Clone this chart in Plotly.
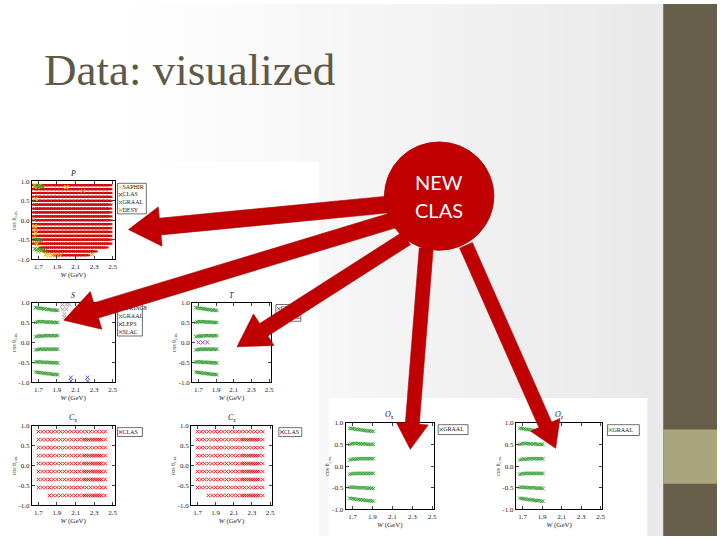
import plotly.graph_objects as go

# ---------------- data ----------------
# P panel: CLAS bins (W in GeV, rows in cos theta)
P_CLAS_W = [1.66, 1.70, 1.74, 1.78, 1.82, 1.86, 1.90, 1.94, 1.98, 2.02, 2.06,
            2.10, 2.14, 2.18, 2.22, 2.26, 2.30, 2.34, 2.38, 2.42, 2.46]
P_CLAS_COS = [0.9, 0.8, 0.7, 0.6, 0.5, 0.4, 0.3, 0.2, 0.1, 0.0,
              -0.1, -0.2, -0.3, -0.4, -0.5, -0.6, -0.7, -0.8, -0.9]
P_CLAS_WMIN = [1.66, 1.66, 1.66, 1.66, 1.66, 1.66, 1.66, 1.66, 1.66, 1.66,
               1.66, 1.66, 1.66, 1.66, 1.66, 1.66, 1.74, 1.78, 1.90]
P_CLAS_WMAX = [2.46, 2.46, 2.46, 2.46, 2.46, 2.46, 2.46, 2.46, 2.46, 2.46,
               2.46, 2.46, 2.46, 2.46, 2.46, 2.46, 2.42, 2.30, 2.22]
P_SAPHIR_W = [1.66, 1.69, 1.72, 1.67, 1.66, 1.67, 1.68, 1.70, 1.78, 1.81, 2.00]
P_SAPHIR_COS = [0.90, 0.86, 0.90, 0.55, -0.15, -0.33, -0.62, -0.80, -0.88, -0.90, 0.85]
P_GRAAL_W = [1.67, 1.69, 1.71, 1.73, 1.75, 1.67, 1.69, 1.71, 1.73,
             1.66, 1.68, 1.70, 1.72, 1.74, 1.76, 1.78]
P_GRAAL_COS = [0.88, 0.88, 0.87, 0.87, 0.86, -0.50, -0.50, -0.51, -0.52,
               -0.74, -0.75, -0.75, -0.76, -0.77, -0.77, -0.78]
P_DESY_W = [1.65, 1.66, 1.66, 1.85, 1.88, 1.91, 1.94, 2.18, 2.28]
P_DESY_COS = [0.02, -0.20, -0.40, -0.90, -0.90, -0.90, -0.90, 0.75, -0.88]

# GRAAL bins (used in S, T, Ox, Oz)
GRAAL_W = [1.67, 1.685, 1.70, 1.715, 1.73, 1.745, 1.76, 1.775, 1.79,
           1.805, 1.82, 1.835, 1.85, 1.865, 1.88, 1.895, 1.91]
GRAAL_COS_ROWS = [
    [0.87, 0.87, 0.86, 0.86, 0.85, 0.85, 0.84, 0.84, 0.83, 0.83, 0.82, 0.82, 0.81, 0.81, 0.81, 0.80, 0.80],
    [0.50, 0.51, 0.52, 0.52, 0.52, 0.52, 0.52, 0.51, 0.51, 0.51, 0.51, 0.51, 0.50, 0.50, 0.50, 0.50, 0.50],
    [0.14, 0.15, 0.16, 0.16, 0.16, 0.16, 0.17, 0.17, 0.17, 0.17, 0.17, 0.17, 0.17, 0.17, 0.17, 0.17, 0.17],
    [-0.19, -0.18, -0.18, -0.17, -0.17, -0.17, -0.17, -0.17, -0.17, -0.17, -0.17, -0.17, -0.17, -0.17, -0.17, -0.17, -0.17],
    [-0.49, -0.49, -0.49, -0.49, -0.49, -0.50, -0.50, -0.50, -0.50, -0.50, -0.50, -0.51, -0.51, -0.51, -0.51, -0.51, -0.52],
    [-0.74, -0.75, -0.75, -0.76, -0.76, -0.77, -0.77, -0.78, -0.78, -0.78, -0.79, -0.79, -0.80, -0.80, -0.80, -0.81, -0.81],
]
S_SPRING8_W = [1.96, 2.00, 2.03, 1.96, 2.00, 1.98, 1.98]
S_SPRING8_COS = [0.95, 0.95, 0.95, 0.83, 0.83, 0.71, 0.63]
S_LEPS_W = [2.05, 2.05, 2.23, 2.23]
S_LEPS_COS = [-0.88, -0.97, -0.88, -0.97]
T_CLAS_W = [1.70, 1.75, 1.80]
T_CLAS_COS = [0.0, 0.0, 0.0]

# Cx / Cz: CLAS bins
C_W = [1.70, 1.74, 1.78, 1.82, 1.86, 1.90, 1.94, 1.98, 2.02, 2.06,
       2.10, 2.14, 2.18, 2.22, 2.26, 2.30, 2.34, 2.38, 2.42]
C_COS = [0.85, 0.65, 0.45, 0.25, 0.05, -0.15, -0.35, -0.55, -0.75]
C_WMIN = [1.70, 1.70, 1.70, 1.70, 1.70, 1.70, 1.70, 1.70, 1.82]
C_W_EXTRA = [2.20, 2.24, 2.28, 2.32, 2.36]
C_COS_EXTRA = [0.65, 0.25, 0.05, -0.15, -0.35, -0.75]

X_TICKS = [1.7, 1.9, 2.1, 2.3, 2.5]
X_TICKTEXT = ["1.7", "1.9", "2.1", "2.3", "2.5"]
Y_TICKS = [-1.0, -0.5, 0.0, 0.5, 1.0]
Y_TICKTEXT = ["-1.0", "-0.5", "0.0", "0.5", "1.0"]

# ---------------- style / layout ----------------
W, H = 720, 540
RED = "#d81818"
GREEN = "#2c9a2c"
YELLOW = "#e8d400"
ORANGE = "#f09020"
BLUE = "#3030c0"
PURPLE = "#9a48b0"
PINKGRAY = "#a08898"
SLAC_C = "#b04040"
ARROW = "#c00000"
SERIF = "Liberation Serif"

def fx(x):
    return x / W

def fy(y):
    return 1 - y / H

# panel pixel boxes: x0, x1, ytop, ybottom
PANELS = {
    "P": (32, 115, 180, 259),
    "S": (32, 115, 303, 384),
    "T": (193, 272, 303, 384),
    "Cx": (32, 115, 428, 509),
    "Cz": (192, 273, 428, 509),
    "Ox": (347, 436, 425, 513),
    "Oz": (518, 605, 425, 513),
}
TITLES = {"P": "<i>P</i>", "S": "<i>S</i>", "T": "<i>T</i>",
          "Cx": "<i>C</i><sub>x</sub>", "Cz": "<i>C</i><sub>z</sub>",
          "Ox": "<i>O</i><sub>x</sub>", "Oz": "<i>O</i><sub>z</sub>"}
ORDER = ["P", "S", "T", "Cx", "Cz", "Ox", "Oz"]
AX = {name: i + 1 for i, name in enumerate(ORDER)}

fig = go.Figure()

def axref(name):
    i = AX[name]
    return ("x" if i == 1 else f"x{i}"), ("y" if i == 1 else f"y{i}")

def add_pts(name, xs, ys, color, size=4, lw=1, symbol="x-thin"):
    xa, ya = axref(name)
    fig.add_trace(go.Scatter(x=xs, y=ys, mode="markers", xaxis=xa, yaxis=ya,
                             marker=dict(symbol=symbol, size=size, color=color,
                                         line=dict(width=lw, color=color)),
                             showlegend=False, hoverinfo="skip"))

# P panel
px_, py_ = [], []
for c, wmin, wmax in zip(P_CLAS_COS, P_CLAS_WMIN, P_CLAS_WMAX):
    for w in P_CLAS_W:
        if wmin - 1e-9 <= w <= wmax + 1e-9:
            px_.append(w)
            py_.append(c)
add_pts("P", px_, py_, "#e01010", size=5, lw=2.2, symbol="line-ew")
add_pts("P", px_, py_, "#b00000", size=2.5, lw=0.6, symbol="x-thin")
add_pts("P", P_SAPHIR_W, P_SAPHIR_COS, YELLOW, size=4, lw=1.2)
add_pts("P", P_GRAAL_W, P_GRAAL_COS, GREEN, size=4, lw=1.0)
add_pts("P", P_DESY_W, P_DESY_COS, ORANGE, size=4, lw=1.0)

# GRAAL panels
for name in ["S", "T", "Ox", "Oz"]:
    gx, gy = [], []
    for row in GRAAL_COS_ROWS:
        gx += GRAAL_W
        gy += row
    add_pts(name, gx, gy, GREEN, size=3.5, lw=0.8)
add_pts("S", S_SPRING8_W, S_SPRING8_COS, PINKGRAY, size=4, lw=0.8)
add_pts("S", S_LEPS_W, S_LEPS_COS, BLUE, size=4, lw=0.8)
add_pts("T", T_CLAS_W, T_CLAS_COS, PURPLE, size=4, lw=1.0)

# Cx, Cz panels
for name in ["Cx", "Cz"]:
    cx, cy = [], []
    for c, wmin in zip(C_COS, C_WMIN):
        for w in C_W:
            if w >= wmin - 1e-9:
                cx.append(w)
                cy.append(c)
    ex, ey = [], []
    for c in C_COS_EXTRA:
        for w in C_W_EXTRA:
            ex.append(w)
            ey.append(c)
    add_pts(name, cx, cy, RED, size=3.5, lw=0.9)
    add_pts(name, ex, ey, RED, size=3.5, lw=0.9)

# axes
tickfont = dict(family=SERIF, size=7, color="#222")
for name in ORDER:
    i = AX[name]
    x0, x1, yt, yb = PANELS[name]
    sx = "" if i == 1 else str(i)
    fig.layout["xaxis" + sx] = dict(
        domain=[fx(x0), fx(x1)], anchor="y" + sx, range=[1.63, 2.52],
        tickvals=X_TICKS, ticktext=X_TICKTEXT, ticks="inside", ticklen=3,
        mirror="ticks", showline=True, linecolor="black", linewidth=1,
        showgrid=False, zeroline=False, tickfont=tickfont,
        title=dict(text="<i>W</i> (GeV)", font=dict(family=SERIF, size=7, color="#222"), standoff=1))
    fig.layout["yaxis" + sx] = dict(
        domain=[fy(yb), fy(yt)], anchor="x" + sx, range=[-1, 1],
        tickvals=Y_TICKS, ticktext=Y_TICKTEXT, ticks="inside", ticklen=3,
        mirror="ticks", showline=True, linecolor="black", linewidth=1,
        showgrid=False, zeroline=False, tickfont=tickfont,
        title=dict(text="cos θ<sub>c.m.</sub>", font=dict(family=SERIF, size=6, color="#444"), standoff=1))

# full-page overlay axis for legend content
NP = len(ORDER) + 1
fig.layout[f"xaxis{NP}"] = dict(domain=[0, 1], range=[0, W], visible=False, anchor=f"y{NP}")
fig.layout[f"yaxis{NP}"] = dict(domain=[0, 1], range=[H, 0], visible=False, anchor=f"x{NP}")

LEGENDS = [
    ((118, 147, 182, 213), [("SAPHIR", YELLOW), ("CLAS", RED), ("GRAAL", GREEN), ("DESY", ORANGE)]),
    ((118, 143, 305, 337), [("SPRING8", PINKGRAY), ("GRAAL", GREEN), ("LEPS", BLUE), ("SLAC", SLAC_C)]),
    ((277, 302, 305, 322), [("CLAS", PURPLE), ("GRAAL", GREEN)]),
    ((118, 143, 430, 439), [("CLAS", RED)]),
    ((280, 303, 430, 439), [("CLAS", RED)]),
    ((440, 470, 427, 437), [("GRAAL", GREEN)]),
    ((610, 642, 427, 438), [("GRAAL", GREEN)]),
]

shapes = []
# background gradient
NSTRIP = 40
for k in range(NSTRIP):
    xa = 666 * k / NSTRIP
    xb = 666 * (k + 1) / NSTRIP + 0.5
    t = max(0.0, (xa - 120) / (666 - 120))
    v = int(round(255 - t * 23))
    col = f"rgb({v},{v},{min(255, v + 1)})"
    shapes.append(dict(type="rect", xref="paper", yref="paper", x0=fx(xa), x1=fx(xb),
                       y0=0, y1=1, fillcolor=col, line=dict(width=0), layer="below"))
# right strips
shapes.append(dict(type="rect", xref="paper", yref="paper", x0=fx(666), x1=1, y0=0, y1=1,
                   fillcolor="#665e48", line=dict(width=0), layer="below"))
shapes.append(dict(type="rect", xref="paper", yref="paper", x0=fx(666), x1=1, y0=fy(487), y1=fy(432),
                   fillcolor="#a9a67e", line=dict(width=0), layer="below"))
# white image backgrounds
shapes.append(dict(type="rect", xref="paper", yref="paper", x0=0, x1=fx(320), y0=0, y1=fy(160),
                   fillcolor="white", line=dict(width=0), layer="below"))
shapes.append(dict(type="rect", xref="paper", yref="paper", x0=fx(330), x1=fx(650), y0=0, y1=fy(400),
                   fillcolor="white", line=dict(width=0), layer="below"))
# legend boxes + entries
lx, ly, ltxt, lcol = [], [], [], []
for (bx0, bx1, by0, by1), entries in LEGENDS:
    shapes.append(dict(type="rect", xref="paper", yref="paper", x0=fx(bx0), x1=fx(bx1),
                       y0=fy(by1), y1=fy(by0), fillcolor="white",
                       line=dict(width=0.7, color="#333"), layer="below"))
    n = len(entries)
    step = (by1 - by0) / n
    for j, (lab, col) in enumerate(entries):
        yy = by0 + step * (j + 0.5)
        lx.append(bx0 + 3)
        ly.append(yy)
        lcol.append(col)
        ltxt.append((bx0 + 5, yy, lab))
fig.add_trace(go.Scatter(x=lx, y=ly, mode="markers", xaxis=f"x{NP}", yaxis=f"y{NP}",
                         marker=dict(symbol="x-thin", size=3.5, color=lcol, line=dict(width=1, color=lcol)),
                         showlegend=False, hoverinfo="skip", cliponaxis=False))
fig.add_trace(go.Scatter(x=[t[0] for t in ltxt], y=[t[1] for t in ltxt], text=[t[2] for t in ltxt],
                         mode="text", textposition="middle right", xaxis=f"x{NP}", yaxis=f"y{NP}",
                         textfont=dict(family=SERIF, size=6, color="#222"),
                         showlegend=False, hoverinfo="skip", cliponaxis=False))

# arrows (tail, tip, shaft half width, head half width, head length)
ARROWS = [
    ((395, 203), (129, 229), 8.5, 20, 32),
    ((400, 218), (64, 321), 8, 20, 34),
    ((408, 238), (238, 348), 7.5, 19, 32),
    ((428, 248), (412, 452), 7, 16, 26),
    ((468, 245), (558, 451), 7, 16, 26),
]
for (tx, ty), (hx, hy), sw, hw, hl in ARROWS:
    dx, dy = hx - tx, hy - ty
    ln = (dx * dx + dy * dy) ** 0.5
    ux, uy = dx / ln, dy / ln
    nx, ny = -uy, ux
    bx, by = hx - ux * hl, hy - uy * hl
    pts = [(tx + nx * sw, ty + ny * sw), (bx + nx * sw, by + ny * sw), (bx + nx * hw, by + ny * hw),
           (hx, hy), (bx - nx * hw, by - ny * hw), (bx - nx * sw, by - ny * sw), (tx - nx * sw, ty - ny * sw)]
    path = "M " + " L ".join(f"{fx(a):.5f},{fy(b):.5f}" for a, b in pts) + " Z"
    shapes.append(dict(type="path", xref="paper", yref="paper", path=path,
                       fillcolor=ARROW, line=dict(width=0.6, color="#a80000"), layer="above"))
# circle
CX, CY, R = 441, 195, 55
shapes.append(dict(type="circle", xref="paper", yref="paper", x0=fx(CX - R), x1=fx(CX + R),
                   y0=fy(CY + R), y1=fy(CY - R), fillcolor=ARROW,
                   line=dict(width=0.8, color="#a80000"), layer="above"))

annotations = [
    dict(text="Data: visualized", x=fx(42), y=fy(67), xref="paper", yref="paper",
         xanchor="left", yanchor="middle", showarrow=False,
         font=dict(family=SERIF, size=45, color="#5e5946")),
    dict(text="NEW", x=fx(CX), y=fy(181), xref="paper", yref="paper", showarrow=False,
         font=dict(family="Lato", size=20, color="white")),
    dict(text="CLAS", x=fx(CX), y=fy(209), xref="paper", yref="paper", showarrow=False,
         font=dict(family="Lato", size=20, color="white")),
]
for name in ORDER:
    x0, x1, yt, yb = PANELS[name]
    annotations.append(dict(text=TITLES[name], x=fx((x0 + x1) / 2), y=fy(yt - 1), xref="paper",
                            yref="paper", xanchor="center", yanchor="bottom", showarrow=False,
                            font=dict(family=SERIF, size=8, color="#222")))

fig.update_layout(width=W, height=H, margin=dict(l=0, r=0, t=0, b=0),
                  paper_bgcolor="white", plot_bgcolor="rgba(0,0,0,0)",
                  shapes=shapes, annotations=annotations, showlegend=False)
fig.write_html("out.html", config={"displayModeBar": False},
               post_script="document.body.style.margin='0';document.body.style.overflow='hidden';")
